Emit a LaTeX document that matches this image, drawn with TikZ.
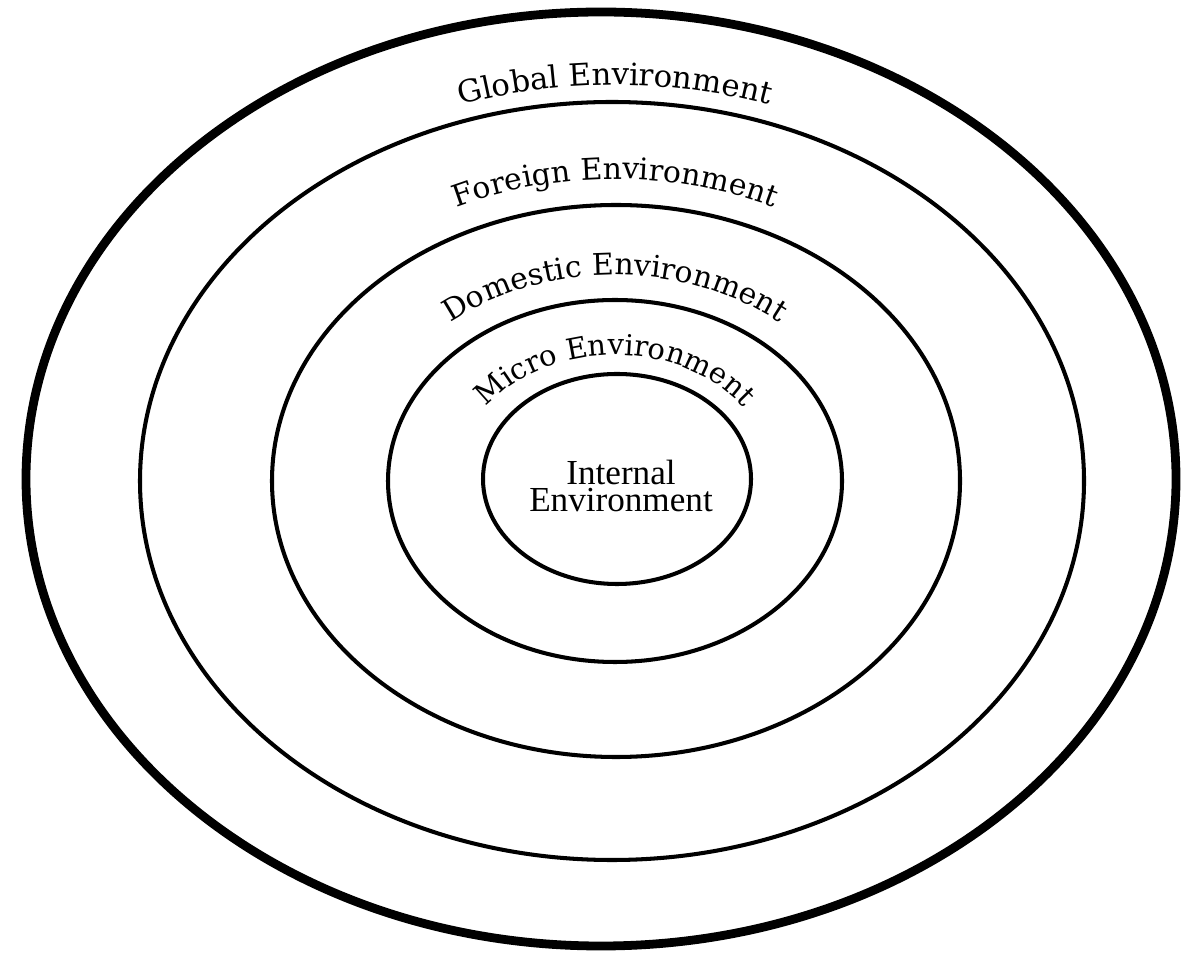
\documentclass[tikz,border=0pt]{standalone}
\usepackage{fontspec}
\setmainfont{Liberation Serif}
\newfontfamily\arcfont{DejaVu Serif}
\usetikzlibrary{decorations.text}
\tikzset{
  ring/.style={draw=black, line width=2.3pt},
  outerring/.style={draw=black, line width=5pt},
  arclabel/.style={decorate, decoration={text along path, text align=center, text={#1}}}
}
\begin{document}
\begin{tikzpicture}
\useasboundingbox (0,0) rectangle (23.68,19.14);
% rings
\draw[outerring] (12.02,9.56) ellipse [x radius=11.50, y radius=9.34];
\draw[ring] (12.24,9.52) ellipse [x radius=9.44, y radius=7.58];
\draw[ring] (12.32,9.52) ellipse [x radius=6.88, y radius=5.52];
\draw[ring] (12.30,9.52) ellipse [x radius=4.54, y radius=3.62];
\draw[ring] (12.34,9.56) ellipse [x radius=2.68, y radius=2.10];
% curved labels
\path[arclabel={|\arcfont\fontsize{17.5pt}{19pt}\selectfont|Global Environment}]
  ([shift={(140:9.82 and 7.90)}]12.30,9.54) arc [start angle=140, end angle=40, x radius=9.82, y radius=7.90];
\path[arclabel={|\arcfont\fontsize{17pt}{19pt}\selectfont|Foreign Environment}]
  ([shift={(150:7.50 and 6.02)}]12.30,9.54) arc [start angle=150, end angle=30, x radius=7.50, y radius=6.02];
\path[arclabel={|\arcfont\fontsize{17pt}{19pt}\selectfont|Domestic Environment}]
  ([shift={(160:5.14 and 4.10)}]12.30,9.54) arc [start angle=160, end angle=20, x radius=5.14, y radius=4.10];
\path[arclabel={|\arcfont\fontsize{16.5pt}{19pt}\selectfont|Micro Environment}]
  ([shift={(175:3.16 and 2.50)}]12.30,9.54) arc [start angle=175, end angle=5, x radius=3.16, y radius=2.50];
% inner label
\node[align=center, font=\fontsize{20pt}{15.5pt}\selectfont] (internal) at (12.42,9.42) {Internal\\Environment};
\end{tikzpicture}
\end{document}
